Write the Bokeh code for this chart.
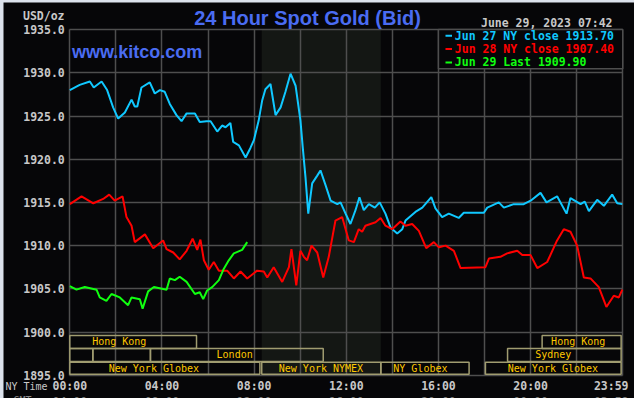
from bokeh.plotting import figure
from bokeh.models import Range1d, FixedTicker, PrintfTickFormatter, Label, LinearAxis, Grid
from bokeh.layouts import column
from bokeh.core.properties import value
from bokeh.embed import file_html
from bokeh.resources import INLINE

# ---------------- data ----------------
hours_jun27 = [0.00, 0.43, 0.87, 1.04, 1.38, 1.62, 1.88, 2.10, 2.39, 2.68, 2.82, 2.93, 3.11, 3.47,
               3.69, 3.91, 4.12, 4.34, 4.63, 4.85, 5.07, 5.43, 5.64, 5.93, 6.11, 6.40, 6.61, 6.76,
               6.97, 7.09, 7.34, 7.63, 7.84, 7.99, 8.20, 8.35, 8.49, 8.71, 8.93, 9.15, 9.36, 9.58,
               9.80, 10.01, 10.11, 10.23, 10.35, 10.52, 10.74, 10.88, 11.10, 11.32, 11.61, 11.75,
               11.97, 12.18, 12.40, 12.57, 12.76, 12.98, 13.24, 13.45, 13.70, 13.92, 14.21, 14.43,
               14.57, 15.00, 15.30, 15.69, 15.87, 16.16, 16.45, 16.88, 17.10, 17.97, 18.12, 18.62,
               18.84, 19.27, 19.70, 20.00, 20.43, 20.69, 21.15, 21.56, 21.73, 22.17, 22.35, 22.53,
               22.89, 23.18, 23.54, 23.76, 23.98]
gold_jun27 = [1928.0, 1928.6, 1929.0, 1928.3, 1929.0, 1928.0, 1926.0, 1924.7, 1925.4, 1926.9, 1926.1,
              1926.1, 1928.3, 1928.9, 1927.6, 1928.0, 1927.8, 1926.4, 1925.1, 1924.4, 1925.3, 1925.3,
              1924.3, 1924.4, 1924.4, 1923.2, 1923.9, 1923.7, 1924.2, 1922.0, 1921.6, 1920.2, 1921.3,
              1922.2, 1924.5, 1926.8, 1928.1, 1928.7, 1925.1, 1926.0, 1927.8, 1929.9, 1928.5, 1924.5,
              1921.4, 1917.9, 1913.7, 1917.2, 1918.1, 1918.7, 1917.0, 1915.2, 1914.8, 1915.0, 1913.7,
              1912.5, 1914.1, 1915.6, 1914.1, 1914.8, 1914.4, 1915.0, 1913.7, 1912.1, 1911.4, 1911.9,
              1912.9, 1913.9, 1914.4, 1915.6, 1914.3, 1913.3, 1913.7, 1913.2, 1913.8, 1913.8, 1914.4,
              1915.0, 1914.4, 1914.8, 1914.8, 1915.2, 1916.1, 1915.0, 1915.7, 1913.7, 1915.5, 1914.8,
              1915.1, 1914.0, 1915.3, 1914.6, 1915.9, 1914.9, 1914.8]

hours_jun28 = [0.00, 0.51, 1.02, 1.45, 1.71, 1.95, 2.29, 2.46, 2.68, 2.82, 3.26, 3.62, 4.05, 4.20,
               4.49, 4.77, 5.07, 5.33, 5.53, 5.67, 5.82, 6.03, 6.25, 6.47, 6.83, 7.12, 7.41, 7.70,
               8.13, 8.42, 8.57, 8.85, 9.22, 9.51, 9.62, 9.83, 10.01, 10.16, 10.30, 10.49, 10.74,
               11.00, 11.24, 11.53, 11.82, 12.11, 12.33, 12.54, 12.69, 12.83, 13.27, 13.49, 13.70,
               13.99, 14.35, 14.57, 14.86, 15.15, 15.47, 15.80, 16.02, 16.31, 16.67, 16.96, 18.04,
               18.19, 18.69, 18.98, 19.42, 19.64, 20.00, 20.29, 20.72, 21.15, 21.44, 21.73, 22.02,
               22.31, 22.60, 22.96, 23.29, 23.61, 23.83, 23.98]
gold_jun28 = [1914.8, 1915.7, 1914.9, 1915.4, 1915.9, 1915.2, 1915.7, 1913.3, 1912.3, 1910.4, 1911.3,
              1909.7, 1910.6, 1909.6, 1909.2, 1908.4, 1909.4, 1910.8, 1909.5, 1910.7, 1908.3, 1907.2,
              1908.1, 1907.1, 1907.1, 1906.2, 1907.0, 1906.2, 1907.1, 1907.0, 1906.3, 1907.5, 1905.8,
              1907.5, 1909.6, 1905.4, 1909.4, 1908.7, 1908.3, 1910.0, 1909.2, 1906.3, 1908.7, 1912.9,
              1913.3, 1910.6, 1910.4, 1911.9, 1911.6, 1912.3, 1912.7, 1913.2, 1912.3, 1911.9, 1912.8,
              1912.3, 1912.5, 1911.7, 1909.7, 1910.4, 1909.8, 1910.0, 1909.4, 1907.4, 1907.5, 1908.5,
              1908.7, 1909.1, 1909.4, 1908.9, 1908.9, 1907.4, 1908.1, 1910.6, 1911.9, 1911.6, 1910.0,
              1906.3, 1906.2, 1905.2, 1902.9, 1904.2, 1904.0, 1904.9]

hours_jun29 = [0.00, 0.29, 0.65, 1.16, 1.30, 1.59, 1.81, 2.17, 2.53, 2.68, 3.04, 3.16, 3.40, 3.65,
               4.20, 4.34, 4.56, 4.77, 5.07, 5.43, 5.64, 5.79, 5.96, 6.18, 6.47, 6.68, 6.90, 7.12,
               7.48, 7.70]
gold_jun29 = [1905.3, 1904.9, 1905.2, 1904.9, 1904.0, 1903.6, 1904.4, 1904.0, 1903.1, 1904.0, 1903.8,
              1902.7, 1904.7, 1905.2, 1904.9, 1906.2, 1906.0, 1906.4, 1905.8, 1904.4, 1904.6, 1903.8,
              1904.8, 1905.2, 1906.0, 1907.3, 1908.3, 1909.1, 1909.5, 1910.4]

legend_labels = ["Jun 27 NY close 1913.70", "Jun 28 NY close 1907.40", "Jun 29 Last 1909.90"]
series_colors = ["#10c8ff", "#ff0000", "#10ff10"]

y_ticks = [1895, 1900, 1905, 1910, 1915, 1920, 1925, 1930, 1935]
x_label_hours = [0, 4, 8, 12, 16, 20, 23.5]
ny_labels = ["00:00", "04:00", "08:00", "12:00", "16:00", "20:00", "23:59"]
gmt_labels = ["04:00", "08:00", "12:00", "16:00", "20:00", "00:00", "03:59"]
grid_hours = [0, 2, 4, 6, 8, 10, 12, 14, 16, 18, 20, 22, 24]

nymex_open, nymex_close = 8.33, 13.5

sess_start = [0.0, 20.5, 0.0, 1.0, 3.5, 19.0, 0.0, 8.33, 13.5, 18.04]
sess_end = [5.5, 23.93, 1.0, 3.5, 11.0, 23.93, 8.25, 13.5, 17.33, 23.93]
sess_row = [0, 0, 1, 1, 1, 1, 2, 2, 2, 2]
sess_names = ["Hong Kong", "Hong Kong", "", "", "London", "Sydney",
              "New York Globex", "New York NYMEX", "NY Globex", "New York Globex"]
sess_text_at = [0.97, 20.89, 0.0, 0.0, 6.37, 20.20, 1.69, 9.07, 14.04, 19.01]

# ---------------- style ----------------
BG = "#060608"
GRID = "#4e4e4e"
SHADE = "#141714"
LABEL = "#c8c8c8"
BLUE = "#4a6cf2"
SESS_LINE = "#a09c70"
SESS_TEXT = "#ffc800"
MONO = "DejaVu Sans Mono"

# page-pixel -> data mapping helpers (frame spans the whole canvas)
X0, PXH, Y1930, PXV = 69.3, 23.04, 72.3, 8.64
def hx(px):
    return (px - X0) / PXH
def vy(py):
    return 1930 - (py - Y1930) / PXV

row_top = [1899.6, 1898.1, 1896.5]
row_bot = [1898.1, 1896.6, 1895.1]

p = figure(width=631, height=396, x_range=Range1d(hx(3), hx(634)), y_range=Range1d(vy(398), vy(2)),
           output_backend="svg", toolbar_location=None,
           x_axis_location=None, y_axis_location=None,
           min_border_left=0, min_border_right=0, min_border_top=0, min_border_bottom=0,
           background_fill_color=BG, border_fill_color=BG)
p.margin = (2, 0, 0, 3)
p.outline_line_color = None
p.grid.visible = False

# grid, limited to the chart box
p.add_layout(Grid(dimension=0, ticker=FixedTicker(ticks=grid_hours), cross_bounds=(1895, 1935),
                  grid_line_color=GRID, grid_line_width=1.5))
p.add_layout(Grid(dimension=1, ticker=FixedTicker(ticks=y_ticks), cross_bounds=(0, 24),
                  grid_line_color=GRID, grid_line_width=1.5))

def style_axis(ax, color=LABEL):
    ax.axis_line_color = None
    ax.major_tick_line_color = None
    ax.minor_tick_line_color = None
    ax.major_tick_out = 0
    ax.major_tick_in = 0
    ax.minor_tick_out = 0
    ax.minor_tick_in = 0
    ax.major_label_text_font = MONO
    ax.major_label_text_font_style = "bold"
    ax.major_label_text_font_size = "11.5px"
    ax.major_label_text_color = color

yax = LinearAxis(fixed_location=0, ticker=FixedTicker(ticks=y_ticks),
                 formatter=PrintfTickFormatter(format="%.1f"), major_label_standoff=5)
style_axis(yax)
p.add_layout(yax, "left")

xax = LinearAxis(fixed_location=1895, ticker=FixedTicker(ticks=x_label_hours),
                 major_label_overrides={h: t for h, t in zip(x_label_hours, ny_labels)},
                 major_label_standoff=4)
style_axis(xax)
p.add_layout(xax, "below")

gax = LinearAxis(fixed_location=vy(390), ticker=FixedTicker(ticks=x_label_hours),
                 major_label_overrides={h: t for h, t in zip(x_label_hours, gmt_labels)},
                 major_label_standoff=4)
style_axis(gax, "#7a7a7a")
p.add_layout(gax, "below")

# NYMEX shaded session
p.quad(left=[nymex_open], right=[nymex_close], bottom=[1895], top=[1935],
       fill_color=SHADE, line_color=None, level="image")

# session bars
p.quad(left=sess_start, right=sess_end,
       top=[row_top[r] for r in sess_row], bottom=[row_bot[r] for r in sess_row],
       fill_alpha=0, line_color=SESS_LINE, line_width=1.5)
named = [i for i, n in enumerate(sess_names) if n]
p.text(x=[sess_text_at[i] for i in named],
       y=[(row_top[sess_row[i]] + row_bot[sess_row[i]]) / 2 for i in named],
       text=[sess_names[i] for i in named],
       text_font=value(MONO), text_font_size="10px", text_color=SESS_TEXT,
       text_baseline="middle", text_align="left")

# price lines
for hrs, vals, col in ((hours_jun27, gold_jun27, series_colors[0]),
                       (hours_jun28, gold_jun28, series_colors[1]),
                       (hours_jun29, gold_jun29, series_colors[2])):
    p.line(hrs, vals, line_color=col, line_width=2)

# legend box
p.quad(left=[16], right=[24], top=[1935], bottom=[vy(68.3)],
       fill_color=BG, line_color=GRID, line_width=1.5)
leg_y = [vy(35.3), vy(48.6), vy(61.9)]
p.segment(x0=[hx(445)] * 3, x1=[hx(451.5)] * 3, y0=leg_y, y1=leg_y,
          line_color=series_colors, line_width=2)
p.text(x=[hx(454.3)] * 3, y=leg_y, text=legend_labels, text_color=series_colors,
       text_font=value(MONO), text_font_style="bold", text_font_size="11.5px",
       text_baseline="middle", text_align="left")

# texts
def lab(x, y, text, **kw):
    p.add_layout(Label(x=x, y=y, text=text, **kw))

lab(hx(307), vy(17.5), "24 Hour Spot Gold (Bid)", text_font="Liberation Sans", text_font_style="bold",
    text_font_size="20px", text_color=BLUE, text_align="center", text_baseline="middle")
lab(hx(71.5), vy(51.5), "www.kitco.com", text_font="Liberation Sans", text_font_style="bold",
    text_font_size="18px", text_color=BLUE, text_align="left", text_baseline="middle")
lab(hx(612), vy(22.5), "June 29, 2023 07:42", text_font=MONO, text_font_style="bold",
    text_font_size="11.5px", text_color=LABEL, text_align="right", text_baseline="middle")
lab(hx(64), vy(15.5), "USD/oz", text_font=MONO, text_font_style="bold",
    text_font_size="11.5px", text_color=LABEL, text_align="right", text_baseline="middle")
lab(hx(5), vy(385.5), "NY Time", text_font=MONO, text_font_size="10px",
    text_color=LABEL, text_align="left", text_baseline="middle")
lab(hx(13), vy(394), "GMT", text_font=MONO, text_font_size="10px",
    text_color="#8a8a8a", text_align="left", text_baseline="top")

layout = column(p, styles={"background-color": "#dce2ec"})
open("out.html", "w").write(file_html(layout, INLINE))
